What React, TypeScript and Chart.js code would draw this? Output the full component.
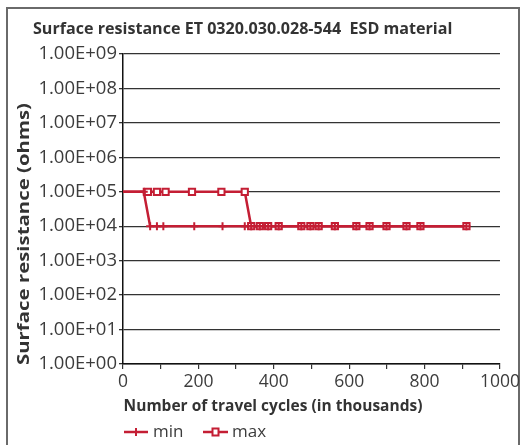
import React, { useEffect, useRef } from "react";
import { Chart, registerables } from "chart.js";

Chart.register(...registerables);

// ---- data ----
const chartTitle = "Surface resistance ET 0320.030.028-544  ESD material";
const xAxisTitle = "Number of travel cycles (in thousands)";
const yAxisTitle = "Surface resistance (ohms)";

const minCycles = [0, 55, 72, 90, 107, 189, 264, 323, 340, 363, 385, 413, 473, 497, 519, 562, 619, 654, 699, 752, 789, 911];
const minValues = [1e5, 1e5, 1e4, 1e4, 1e4, 1e4, 1e4, 1e4, 1e4, 1e4, 1e4, 1e4, 1e4, 1e4, 1e4, 1e4, 1e4, 1e4, 1e4, 1e4, 1e4, 1e4];

const maxCycles = [0, 66, 90, 113, 183, 261, 323, 340, 363, 385, 413, 473, 497, 519, 562, 619, 654, 699, 752, 789, 911];
const maxValues = [1e5, 1e5, 1e5, 1e5, 1e5, 1e5, 1e5, 1e4, 1e4, 1e4, 1e4, 1e4, 1e4, 1e4, 1e4, 1e4, 1e4, 1e4, 1e4, 1e4, 1e4];

const seriesNames = ["min", "max"];

const yTickValues = [1, 1e1, 1e2, 1e3, 1e4, 1e5, 1e6, 1e7, 1e8, 1e9];
const yTickLabels = ["1.00E+00", "1.00E+01", "1.00E+02", "1.00E+03", "1.00E+04", "1.00E+05", "1.00E+06", "1.00E+07", "1.00E+08", "1.00E+09"];
const xTickLabels = ["0", "200", "400", "600", "800", "1000"];

// ---- style ----
const RED = "#c41e34";
const TEXT = "#333333";
const LABEL = "#3c3c3c";
const FONT = "'Open Sans', 'Noto Sans', sans-serif";

const decorPlugin = {
  id: "decor",
  afterDraw(chart: any) {
    const ctx = chart.ctx as CanvasRenderingContext2D;
    ctx.save();
    ctx.fillStyle = TEXT;
    ctx.textBaseline = "middle";

    ctx.font = `bold 16.1px ${FONT}`;
    ctx.textAlign = "left";
    ctx.fillText(chartTitle, 33, 29);

    ctx.font = `bold 15.5px ${FONT}`;
    ctx.textAlign = "center";
    ctx.fillText(xAxisTitle, 273, 407);

    ctx.save();
    ctx.font = `bold 15.5px ${FONT}`;
    const w = ctx.measureText(yAxisTitle).width;
    ctx.translate(25, 234);
    ctx.rotate(-Math.PI / 2);
    ctx.scale(262 / w, 1);
    ctx.fillText(yAxisTitle, 0, 0);
    ctx.restore();

    // legend
    const ly = 432;
    const items = [
      { name: seriesNames[0], x1: 124, x2: 148, text: 153, kind: "plus" },
      { name: seriesNames[1], x1: 203, x2: 228, text: 232, kind: "square" },
    ];
    ctx.font = `17px ${FONT}`;
    ctx.textAlign = "left";
    for (const it of items) {
      ctx.strokeStyle = RED;
      ctx.lineWidth = 2.5;
      ctx.beginPath();
      ctx.moveTo(it.x1, ly);
      ctx.lineTo(it.x2, ly);
      ctx.stroke();
      const mx = (it.x1 + it.x2) / 2;
      if (it.kind === "plus") {
        ctx.lineWidth = 2;
        ctx.beginPath();
        ctx.moveTo(mx, ly - 4);
        ctx.lineTo(mx, ly + 4);
        ctx.stroke();
      } else {
        ctx.fillStyle = "#ffffff";
        ctx.lineWidth = 2;
        ctx.beginPath();
        ctx.rect(mx - 3, ly - 3.5, 6, 7);
        ctx.fill();
        ctx.stroke();
      }
      ctx.fillStyle = LABEL;
      ctx.fillText(it.name, it.text, ly);
    }
    ctx.restore();
  },
};

export default function App() {
  const ref = useRef<HTMLCanvasElement | null>(null);

  useEffect(() => {
    if (!ref.current) return;
    const minData = minCycles.map((x, i) => ({ x, y: minValues[i] }));
    const maxData = maxCycles.map((x, i) => ({ x, y: maxValues[i] }));
    const chart = new Chart(ref.current, {
      type: "scatter",
      data: {
        datasets: [
          {
            label: seriesNames[0],
            data: minData,
            showLine: true,
            borderColor: RED,
            backgroundColor: RED,
            borderWidth: 2.5,
            pointStyle: "cross",
            pointRadius: minData.map((_, i) => (i === 0 ? 0 : 4)),
            pointBorderWidth: 2,
            pointBorderColor: RED,
            tension: 0,
          },
          {
            label: seriesNames[1],
            data: maxData,
            showLine: true,
            borderColor: RED,
            backgroundColor: "#ffffff",
            borderWidth: 2.5,
            pointStyle: "rect",
            pointRadius: maxData.map((_, i) => (i === 0 ? 0 : 4.4)),
            pointBorderWidth: 2,
            pointBorderColor: RED,
            pointBackgroundColor: "#ffffff",
            tension: 0,
          },
        ],
      },
      options: {
        animation: false,
        responsive: false,
        maintainAspectRatio: false,
        layout: { padding: { top: 54, right: 23, bottom: 51, left: 0 } },
        plugins: {
          legend: { display: false },
          title: { display: false },
          tooltip: { enabled: false },
        },
        scales: {
          x: {
            type: "linear",
            min: 0,
            max: 1000,
            afterFit: (s: any) => {
              s.height = 30;
            },
            ticks: {
              stepSize: 100,
              autoSkip: false,
              maxRotation: 0,
              padding: 3,
              color: LABEL,
              font: { family: FONT, size: 17.5 },
              callback: (v: any) => (Number(v) % 200 === 0 ? xTickLabels[Number(v) / 200] : ""),
            },
            grid: { drawOnChartArea: false, drawTicks: true, tickLength: 5, color: "#333333", lineWidth: 1.2 },
            border: { color: "#111111", width: 1.5 },
          },
          y: {
            type: "logarithmic",
            min: 1,
            max: 1e9,
            afterBuildTicks: (s: any) => {
              s.ticks = yTickValues.map((v) => ({ value: v }));
            },
            afterFit: (s: any) => {
              s.width = 123;
            },
            ticks: {
              autoSkip: false,
              padding: 2,
              color: LABEL,
              font: { family: FONT, size: 18.5 },
              callback: (_v: any, i: number) => yTickLabels[i],
            },
            grid: { color: "#333333", lineWidth: 1.3, tickLength: 4 },
            border: { color: "#111111", width: 1.5 },
          },
        },
      },
      plugins: [decorPlugin],
    });
    return () => chart.destroy();
  }, []);

  return (
    <div style={{ position: "fixed", left: 0, top: 0, width: 523, height: 445, background: "#fff" }}>
      <div
        style={{
          position: "absolute",
          left: 6,
          top: 7,
          width: 514,
          height: 470,
          boxSizing: "border-box",
          border: "2px solid #6a6a6a",
        }}
      />
      <canvas ref={ref} width={523} height={445} style={{ position: "absolute", left: 0, top: 0 }} />
    </div>
  );
}
